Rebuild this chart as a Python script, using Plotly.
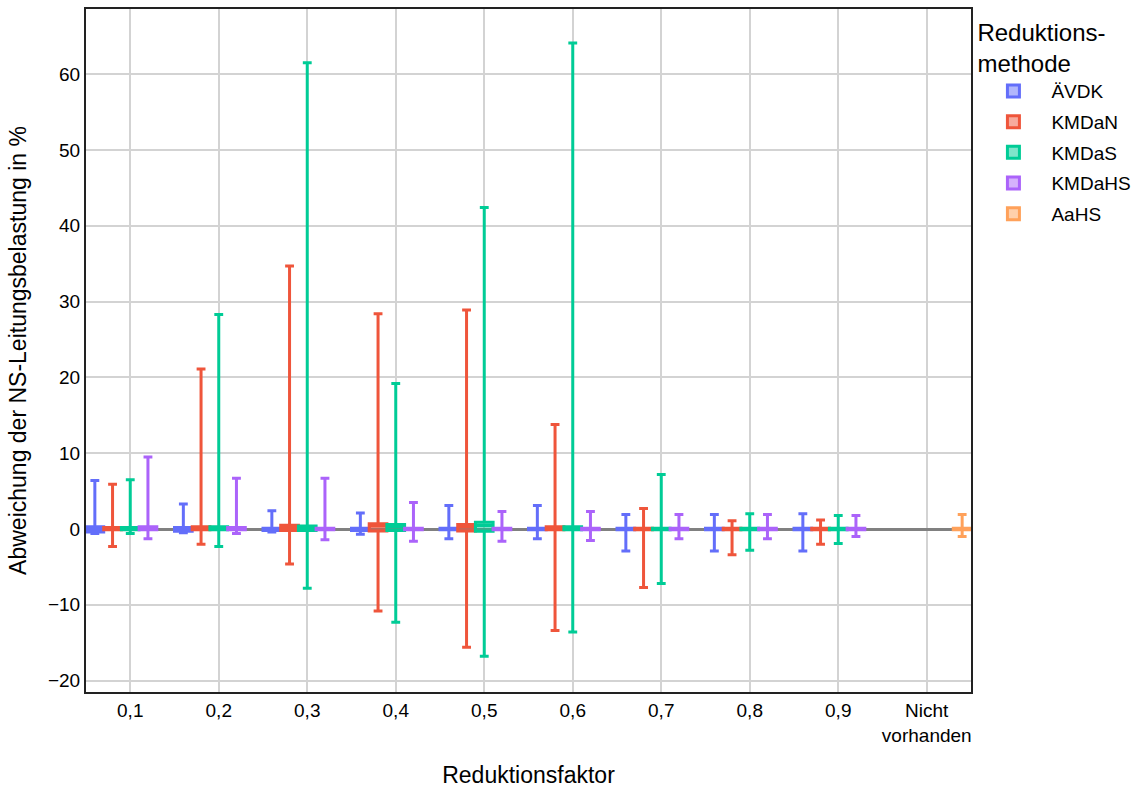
import plotly.graph_objects as go

# Reduction factors (x categories)
faktoren = ["0,1", "0,2", "0,3", "0,4", "0,5", "0,6", "0,7", "0,8", "0,9"]
nicht_vorhanden = "Nicht<br>vorhanden"

# Box statistics per method, one entry per reduction factor
aevdk_low = [-0.6, -0.5, -0.4, -0.7, -1.3, -1.3, -2.9, -2.9, -2.9]
aevdk_q1 = [-0.4, -0.3, -0.2, -0.2, -0.1, -0.1, -0.1, -0.1, -0.1]
aevdk_med = [0.0, 0.0, 0.0, 0.0, 0.0, 0.0, 0.0, 0.0, 0.0]
aevdk_q3 = [0.3, 0.2, 0.1, 0.1, 0.1, 0.1, 0.1, 0.1, 0.1]
aevdk_high = [6.4, 3.3, 2.4, 2.1, 3.1, 3.1, 1.9, 1.9, 2.0]

kmdan_low = [-2.3, -2.0, -4.6, -10.8, -15.6, -13.4, -7.7, -3.4, -2.0]
kmdan_q1 = [-0.1, -0.1, -0.2, -0.25, -0.25, -0.1, -0.1, -0.1, -0.1]
kmdan_med = [0.0, 0.1, 0.2, 0.4, 0.3, 0.1, 0.0, 0.0, 0.0]
kmdan_q3 = [0.2, 0.3, 0.5, 0.7, 0.6, 0.3, 0.1, 0.1, 0.1]
kmdan_high = [5.9, 21.1, 34.7, 28.4, 28.9, 13.8, 2.7, 1.1, 1.2]

kmdas_low = [-0.6, -2.3, -7.8, -12.3, -16.8, -13.6, -7.2, -2.8, -1.9]
kmdas_q1 = [-0.1, -0.1, -0.2, -0.2, -0.3, -0.1, -0.1, -0.1, -0.1]
kmdas_med = [0.0, 0.1, 0.1, 0.3, 0.45, 0.1, 0.0, 0.0, 0.0]
kmdas_q3 = [0.2, 0.3, 0.4, 0.6, 0.9, 0.3, 0.1, 0.1, 0.1]
kmdas_high = [6.5, 28.3, 61.5, 19.2, 42.4, 64.1, 7.2, 2.0, 1.8]

kmdahs_low = [-1.3, -0.6, -1.4, -1.6, -1.6, -1.5, -1.3, -1.3, -1.0]
kmdahs_q1 = [-0.1, -0.1, -0.1, -0.1, -0.1, -0.1, -0.1, -0.1, -0.1]
kmdahs_med = [0.0, 0.0, 0.0, 0.0, 0.0, 0.0, 0.0, 0.0, 0.0]
kmdahs_q3 = [0.3, 0.2, 0.1, 0.1, 0.1, 0.1, 0.1, 0.1, 0.1]
kmdahs_high = [9.5, 6.7, 6.7, 3.5, 2.3, 2.3, 1.9, 1.9, 1.8]

# Reference case without reduction
aahs_low = [-1.0]
aahs_q1 = [-0.1]
aahs_med = [0.0]
aahs_q3 = [0.1]
aahs_high = [1.9]

methoden = [
    ("ÄVDK", "#636EFA", faktoren, aevdk_low, aevdk_q1, aevdk_med, aevdk_q3, aevdk_high),
    ("KMDaN", "#EF553B", faktoren, kmdan_low, kmdan_q1, kmdan_med, kmdan_q3, kmdan_high),
    ("KMDaS", "#00CC96", faktoren, kmdas_low, kmdas_q1, kmdas_med, kmdas_q3, kmdas_high),
    ("KMDaHS", "#AB63FA", faktoren, kmdahs_low, kmdahs_q1, kmdahs_med, kmdahs_q3, kmdahs_high),
    ("AaHS", "#FFA15A", [nicht_vorhanden], aahs_low, aahs_q1, aahs_med, aahs_q3, aahs_high),
]

fig = go.Figure()
for name, color, xs, low, q1, med, q3, high in methoden:
    fig.add_trace(go.Box(
        name=name,
        legendgroup=name,
        x=xs,
        lowerfence=low,
        q1=q1,
        median=med,
        q3=q3,
        upperfence=high,
        marker_color=color,
        line=dict(color=color, width=3),
        whiskerwidth=0.5,
        boxpoints=False,
    ))

fig.update_layout(
    width=1140,
    height=788,
    boxmode="group",
    boxgap=0,
    boxgroupgap=0,
    plot_bgcolor="white",
    paper_bgcolor="rgba(0,0,0,0)",
    font=dict(family="Liberation Sans, Arial, sans-serif", size=19, color="black"),
    margin=dict(l=86, r=169, t=9, b=96, autoexpand=False),
    legend=dict(
        title=dict(text="Reduktions-<br>methode", font=dict(size=24)),
        x=1.005, xanchor="left", y=0.999, yanchor="top",
        font=dict(size=19),
        itemwidth=66,
        tracegroupgap=3,
        bgcolor="rgba(0,0,0,0)",
    ),
)

fig.update_xaxes(
    title=dict(text="Reduktionsfaktor", font=dict(size=23), standoff=22),
    automargin=False,
    categoryorder="array",
    categoryarray=faktoren + [nicht_vorhanden],
    range=[-0.5, 9.5],
    showgrid=True,
    gridcolor="#d3d3d3",
    gridwidth=1.6,
    showline=True,
    linecolor="#222222",
    linewidth=2,
    mirror=True,
    ticks="",
)
fig.update_yaxes(
    title=dict(text="Abweichung der NS-Leitungsbelastung in %", font=dict(size=23)),
    automargin=False,
    range=[-21.5, 68.6],
    dtick=10,
    showgrid=True,
    gridcolor="#d3d3d3",
    gridwidth=1.6,
    zeroline=True,
    zerolinecolor="#808080",
    zerolinewidth=3,
    showline=True,
    linecolor="#222222",
    linewidth=2,
    mirror=True,
    ticks="",
)

fig.write_html("out.html")
